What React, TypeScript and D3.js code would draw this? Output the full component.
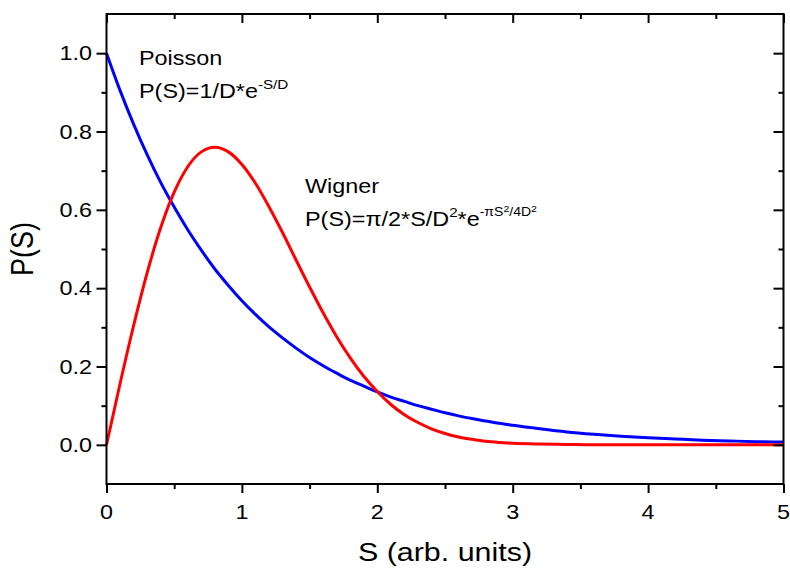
import React, { useEffect, useRef } from 'react'
import * as d3 from 'd3'

// S values (arb. units) and the two curves
const sValues = [0, 0.1, 0.2, 0.3, 0.4, 0.5, 0.6, 0.7, 0.8, 0.9, 1.0, 1.1, 1.2, 1.3, 1.4, 1.5, 1.6, 1.7, 1.8, 1.9, 2.0, 2.1, 2.2, 2.3, 2.4, 2.5, 2.6, 2.7, 2.8, 2.9, 3.0, 3.2, 3.4, 3.6, 3.8, 4.0, 4.2, 4.4, 4.6, 4.8, 5.0]
const poisson = [1.0, 0.905, 0.819, 0.741, 0.67, 0.607, 0.549, 0.497, 0.449, 0.407, 0.368, 0.333, 0.301, 0.273, 0.247, 0.223, 0.202, 0.183, 0.165, 0.15, 0.135, 0.122, 0.111, 0.1, 0.091, 0.082, 0.074, 0.067, 0.061, 0.055, 0.05, 0.041, 0.033, 0.027, 0.022, 0.018, 0.015, 0.012, 0.01, 0.008, 0.007]
const wigner = [0, 0.156, 0.304, 0.439, 0.554, 0.645, 0.71, 0.748, 0.76, 0.748, 0.716, 0.668, 0.608, 0.542, 0.472, 0.403, 0.337, 0.276, 0.222, 0.175, 0.136, 0.103, 0.077, 0.057, 0.041, 0.029, 0.02, 0.014, 0.009, 0.006, 0.004, 0.002, 0.001, 0.0, 0.0, 0.0, 0.0, 0.0, 0.0, 0.0, 0.0]

const xTicks = [0, 1, 2, 3, 4, 5]
const xMinor = [0.5, 1.5, 2.5, 3.5, 4.5]
const yTicks = [0, 0.2, 0.4, 0.6, 0.8, 1.0]
const yMinor = [0.1, 0.3, 0.5, 0.7, 0.9]

const FONT = "'Liberation Sans', Arial, sans-serif"
const SX = 1.17 // the original text is a bit wider than plain Arial

function drawChart(el: SVGSVGElement) {
  const svg = d3.select(el)
  svg.selectAll('*').remove()

  const x = d3.scaleLinear().domain([0, 5]).range([106.5, 783.5])
  const y = d3.scaleLinear().domain([-0.1, 1.1]).range([484, 14])
  const [x0, x1] = x.range()
  const [y0, y1] = y.range()

  const line = d3.line<number>()
    .x((d, i) => x(sValues[i]))
    .y(d => y(d))
    .curve(d3.curveMonotoneX)

  svg.append('path').datum(poisson)
    .attr('d', line).attr('fill', 'none')
    .attr('stroke', '#0000ff').attr('stroke-width', 3)
  svg.append('path').datum(wigner)
    .attr('d', line).attr('fill', 'none')
    .attr('stroke', '#ff0000').attr('stroke-width', 3)

  const styleAxis = (g: any) => {
    g.select('.domain').remove()
    g.selectAll('text').remove()
    g.selectAll('line').attr('stroke', '#000').attr('stroke-width', 2)
  }
  const tickAxis = (axis: any, tx: number, ty: number, vals: number[], size: number) => {
    svg.append('g').attr('transform', `translate(${tx},${ty})`)
      .call(axis.tickValues(vals).tickSize(size))
      .call(styleAxis)
  }

  // bottom: outward, top: inward
  tickAxis(d3.axisBottom(x), 0, y0, xTicks, 9)
  tickAxis(d3.axisBottom(x), 0, y0, xMinor, 5)
  tickAxis(d3.axisBottom(x), 0, y1, xTicks, 9)
  tickAxis(d3.axisBottom(x), 0, y1, xMinor, 5)
  // left: outward, right: inward
  tickAxis(d3.axisLeft(y), x0, 0, yTicks, 10)
  tickAxis(d3.axisLeft(y), x0, 0, yMinor, 5)
  tickAxis(d3.axisLeft(y), x1, 0, yTicks, 10)
  tickAxis(d3.axisLeft(y), x1, 0, yMinor, 5)

  // frame
  svg.append('rect')
    .attr('x', x0).attr('y', y1)
    .attr('width', x1 - x0).attr('height', y0 - y1)
    .attr('fill', 'none').attr('stroke', '#000').attr('stroke-width', 2)

  const label = (tx: number, ty: number, anchor: string, size: number) =>
    svg.append('g').attr('transform', `translate(${tx},${ty}) scale(${SX},1)`)
      .append('text')
      .attr('text-anchor', anchor)
      .attr('font-size', size).attr('font-family', FONT).attr('fill', '#000')

  // tick labels
  xTicks.forEach(v => label(x(v), 519, 'middle', 20).text(d3.format('d')(v)))
  yTicks.forEach(v => label(92, y(v) + 7, 'end', 20).text(d3.format('.1f')(v)))

  // axis titles
  label((x0 + x1) / 2, 561, 'middle', 26).text('S (arb. units)')
  svg.append('g')
    .attr('transform', `translate(33,${(y0 + y1) / 2}) scale(${SX},1) rotate(-90)`)
    .append('text')
    .attr('text-anchor', 'middle')
    .attr('font-size', 27).attr('font-family', FONT)
    .text('P(S)')

  // annotations
  label(139, 65, 'start', 20).text('Poisson')
  const p = label(139, 98, 'start', 20)
  p.append('tspan').text('P(S)=1/D*e')
  p.append('tspan').attr('dy', -9).attr('font-size', 13).text('-S/D')

  label(305, 193, 'start', 20).text('Wigner')
  const w = label(305, 226, 'start', 20)
  w.append('tspan').text('P(S)=π/2*S/D')
  w.append('tspan').attr('dy', -9).attr('font-size', 13).text('2')
  w.append('tspan').attr('dy', 9).attr('font-size', 20).text('*e')
  w.append('tspan').attr('dy', -10).attr('font-size', 12).text('-πS')
  w.append('tspan').attr('dy', -4).attr('font-size', 9).text('2')
  w.append('tspan').attr('dy', 4).attr('font-size', 12).text('/4D')
  w.append('tspan').attr('dy', -4).attr('font-size', 9).text('2')
}

export default function App() {
  const ref = useRef<SVGSVGElement>(null)
  useEffect(() => {
    if (ref.current) drawChart(ref.current)
  }, [])
  return (
    <svg ref={ref} width={790} height={571}
      style={{ position: 'absolute', left: 0, top: 0, background: '#fff' }} />
  )
}
